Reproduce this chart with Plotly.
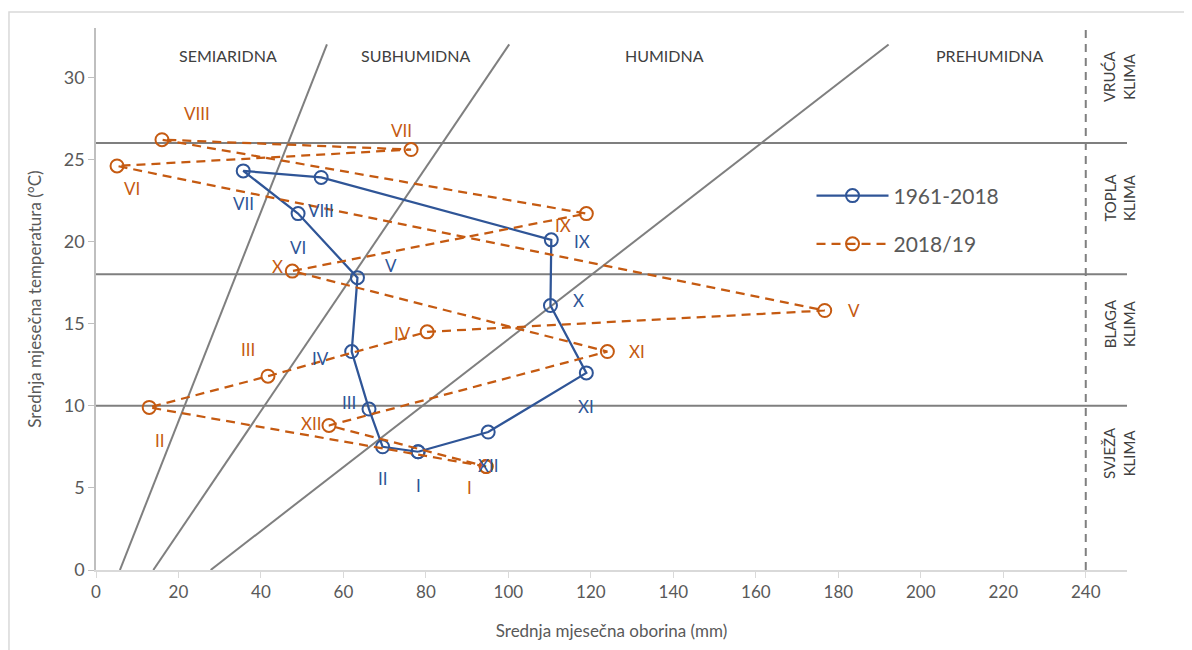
import plotly.graph_objects as go

# ---- data ----
months = ["I", "II", "III", "IV", "V", "VI", "VII", "VIII", "IX", "X", "XI", "XII"]

# 1961-2018 mean monthly precipitation (mm) and temperature (°C)
p_1961_2018 = [78.1, 69.5, 66.2, 62.0, 63.4, 49.0, 35.7, 54.6, 110.4, 110.2, 118.9, 95.1]
t_1961_2018 = [7.2, 7.5, 9.8, 13.3, 17.8, 21.7, 24.3, 23.9, 20.1, 16.1, 12.0, 8.4]

# 2018/19
p_2018_19 = [94.6, 12.9, 41.7, 80.3, 176.7, 5.1, 76.4, 16.0, 118.9, 47.6, 124.0, 56.5]
t_2018_19 = [6.3, 9.9, 11.8, 14.5, 15.8, 24.6, 25.6, 26.2, 21.7, 18.2, 13.3, 8.8]

# humidity zone boundary lines: precipitation at T=0 and at T=32
boundary_p_at_t0 = [5.8, 13.9, 27.8]
boundary_p_at_t32 = [56.0, 100.2, 192.2]
boundary_t = [0, 32]

# thermal zone thresholds (°C) and precipitation limit (mm)
temp_thresholds = [10, 18, 26]
precip_limit = 240

humid_zones = ["SEMIARIDNA", "SUBHUMIDNA", "HUMIDNA", "PREHUMIDNA"]
humid_zone_x = [32.0, 77.4, 137.8, 216.7]
thermal_zones = ["VRUĆA<br>KLIMA", "TOPLA<br>KLIMA", "BLAGA<br>KLIMA", "SVJEŽA<br>KLIMA"]
thermal_zone_y = [30.05, 22.65, 15.0, 7.1]

x_ticks = list(range(0, 241, 20))
y_ticks = list(range(0, 31, 5))

# ---- label offsets (pixels: dx right, dy down) ----
blue_off = [(0, 34), (0, 32), (-20, -7), (-31, 7), (34, -12), (0, 34),
            (0, 33), (0, 33), (31, 2), (28, -5), (0, 34), (0, 33)]
orange_off = [(-17, 21), (11, 33), (-20, -27), (-25, 2), (29, 0), (15, 23),
              (-10, -19), (35, -26), (-23, 12), (-15, -5), (30, 0), (-18, -2)]

BLUE = "#2F5597"
ORANGE = "#C55A11"
GRAY = "#7F7F7F"
FONT = "Lato"

fig = go.Figure()

# boundary lines
for p0, p1 in zip(boundary_p_at_t0, boundary_p_at_t32):
    fig.add_trace(go.Scatter(x=[p0, p1], y=boundary_t, mode="lines",
                             line=dict(color=GRAY, width=2), showlegend=False,
                             hoverinfo="skip"))

# thresholds
for t in temp_thresholds:
    fig.add_shape(type="line", xref="x", yref="y", x0=0, x1=250, y0=t, y1=t,
                  line=dict(color=GRAY, width=2), layer="below")
fig.add_shape(type="line", xref="x", yref="y", x0=precip_limit, x1=precip_limit,
              y0=0, y1=33, line=dict(color=GRAY, width=2, dash="8px,6px"), layer="below")

# series
fig.add_trace(go.Scatter(
    x=p_1961_2018 + p_1961_2018[:1], y=t_1961_2018 + t_1961_2018[:1],
    mode="lines+markers", name="1961-2018",
    line=dict(color=BLUE, width=2.25),
    marker=dict(symbol="circle-open", size=13, color=BLUE, line=dict(width=2)),
    legendgroup="a"))
fig.add_trace(go.Scatter(
    x=p_2018_19 + p_2018_19[:1], y=t_2018_19 + t_2018_19[:1],
    mode="lines+markers", name="2018/19",
    line=dict(color=ORANGE, width=2.25, dash="9px,6px"),
    marker=dict(symbol="circle-open", size=13, color=ORANGE, line=dict(width=2)),
    legendgroup="b"))

# month labels
for m, x, y, (dx, dy) in zip(months, p_1961_2018, t_1961_2018, blue_off):
    fig.add_annotation(x=x, y=y, text=m, showarrow=False, xshift=dx, yshift=-dy,
                       font=dict(family=FONT, size=17, color=BLUE))
for m, x, y, (dx, dy) in zip(months, p_2018_19, t_2018_19, orange_off):
    fig.add_annotation(x=x, y=y, text=m, showarrow=False, xshift=dx, yshift=-dy,
                       font=dict(family=FONT, size=17, color=ORANGE))

# zone labels
for name, x in zip(humid_zones, humid_zone_x):
    fig.add_annotation(x=x, y=31.33, text=name, showarrow=False,
                       font=dict(family=FONT, size=16, color="#404040"))
for name, y in zip(thermal_zones, thermal_zone_y):
    fig.add_annotation(x=248.2, y=y, text=name, showarrow=False, textangle=-90,
                       font=dict(family=FONT, size=15, color="#404040"))

# outer border
fig.add_shape(type="rect", xref="paper", yref="paper", x0=-0.0844, x1=1.2,
              y0=-0.3, y1=1.0295, line=dict(color="#D9D9D9", width=1.5))

fig.update_layout(
    width=1184, height=642,
    margin=dict(l=88, r=65, t=20, b=80),
    paper_bgcolor="white", plot_bgcolor="white",
    font=dict(family=FONT, color="#595959"),
    legend=dict(x=0.694, y=0.728, xanchor="left", yanchor="top",
                font=dict(size=21, color="#595959"), traceorder="grouped",
                tracegroupgap=18, itemwidth=72, bgcolor="rgba(0,0,0,0)"),
    xaxis=dict(range=[0, 250], tickvals=x_ticks, showgrid=False, zeroline=False,
               showline=True, linecolor="#D9D9D9", linewidth=1.5,
               ticks="outside", ticklen=6, tickcolor="#D9D9D9",
               tickfont=dict(size=17, color="#595959"),
               title=dict(text="Srednja mjesečna oborina (mm)",
                          font=dict(size=17, color="#595959"), standoff=24)),
    yaxis=dict(range=[0, 33], tickvals=y_ticks, showgrid=False, zeroline=False,
               showline=True, linecolor="#BFBFBF", linewidth=1.5,
               ticks="outside", ticklen=6, tickcolor="#BFBFBF",
               tickfont=dict(size=18, color="#595959"),
               title=dict(text="Srednja mjesečna temperatura (°C)",
                          font=dict(size=17, color="#595959"), standoff=18)),
)

fig.write_html("out.html")
